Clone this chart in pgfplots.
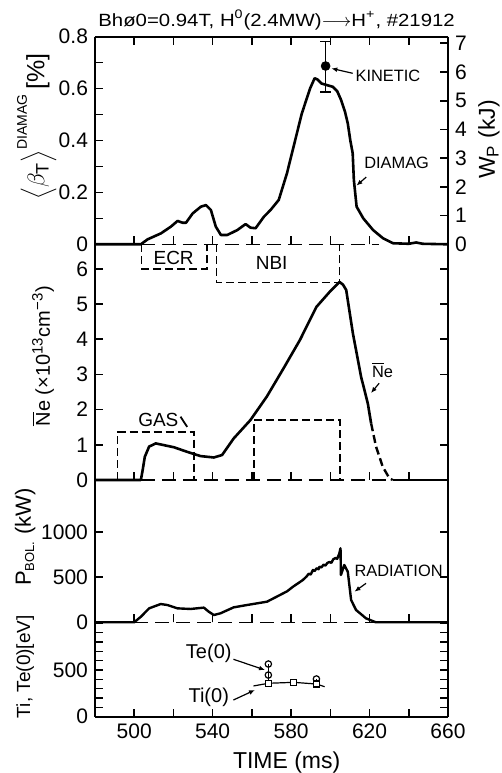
\documentclass[border=0pt]{standalone}
\usepackage{fontspec}
\setmainfont{Liberation Sans}
\newfontfamily\wide[FakeStretch=1.15]{Liberation Sans}
\usepackage{pgfplots}
\usepackage{pgfplotstable}
\pgfplotsset{compat=1.18}
\usetikzlibrary{arrows.meta}

% diamagnetic beta, %
\pgfplotstableread{
t v
480 0
503.4 0
506.8 0.019
513.6 0.042
518.7 0.068
522.1 0.090
524.7 0.083
526.4 0.083
529.8 0.119
534.0 0.145
536.6 0.151
539.1 0.132
541.6 0.068
544.2 0.036
547.5 0.036
552.6 0.055
556.8 0.078
559.3 0.064
561.9 0.062
566.1 0.106
569.5 0.132
573.7 0.171
577.9 0.274
582.1 0.402
585.5 0.505
589.7 0.601
592.0 0.640
593.5 0.635
595.4 0.620
598.0 0.614
601.3 0.607
603.5 0.590
605.5 0.556
607.5 0.510
608.9 0.466
610.2 0.400
611.4 0.351
612.0 0.248
613.4 0.145
616.8 0.100
621.8 0.055
626.9 0.023
632.0 0.004
640.0 0.002
643.8 0.007
647.0 0.002
660 0
}\diamag

% line density, 1e13 cm^-3
\pgfplotstableread{
t v
480 0
503.4 0
504.3 0.28
505.4 0.66
507.6 0.95
511.0 1.04
516.9 0.97
520.3 0.93
527.0 0.80
533.8 0.68
540.6 0.64
544.8 0.71
550.7 1.18
559.2 1.70
567.6 2.37
576.1 3.17
584.5 3.98
592.9 4.92
599.7 5.35
604.7 5.63
606.5 5.55
608.1 5.40
611.5 4.17
615.7 2.93
619.1 2.18
620.8 1.61
}\nesolid
\pgfplotstableread{
t v
620.8 1.61
623.3 0.95
626.7 0.38
630.1 0.05
631.8 0
}\nedash

% bolometer, kW
\pgfplotstableread{
t v
480 0
500.0 0
503.4 62
507.6 155
513.5 203
516.9 192
522.0 155
528.7 148
535.5 163
538.0 118
540.6 81
544.0 100
550.7 166
557.5 192
567.7 229
574.3 303
578.0 345
581.0 396
584.0 440
586.0 470
587.8 507
589.0 540
590.0 530
591.1 581
592.0 570
593.0 600
594.0 590
594.5 618
595.5 610
596.5 640
597.5 630
598.5 660
599.6 670
600.5 660
601.5 700
602.6 714
603.5 705
604.5 760
605.2 822
605.4 526
607.1 637
608.9 562
610.6 248
613.1 137
618.2 44
623.2 0
660 0
}\prad

\pgfplotsset{
  panel/.style={
    width=176.5pt, scale only axis, anchor=south west,
    xmin=480, xmax=660,
    separate axis lines,
    axis line style={line width=0.9pt},
    x axis line style={draw=none},
    tick style={draw=black, line width=0.8pt},
    tick align=inside,
    major tick length=4pt, minor tick length=4pt,
    xtick={500,540,580,620,660}, minor xtick={520,560,600,640},
    ticklabel style={font=\fontsize{10.5}{12}\selectfont},
    /pgf/number format/assume math mode=true,
    /pgf/number format/1000 sep={},
    clip=false,
  },
}
\tikzset{
  curve/.style={black, line width=1.3pt, line join=round},
  zero/.style={black, line width=0.75pt, dash pattern=on 7pt off 3.5pt},
  box/.style={black, line width=0.75pt, dash pattern=on 4pt off 2pt},
  note/.style={font=\fontsize{8.2}{10}\selectfont},
  lab/.style={font=\fontsize{10}{12}\selectfont, rotate=90},
  arr/.style={-{Latex[length=3pt,width=2.4pt]}, line width=0.6pt},
  tk/.style={black, line width=0.8pt},
}

\begin{document}
\begin{tikzpicture}
\useasboundingbox (0,0) rectangle (251pt,386.5pt);

% --- temperatures ---
\begin{axis}[panel, at={(47.5pt,28.15pt)}, height=47.2pt,
  ymin=0, ymax=1011, ytick={0,500}, minor ytick={100,200,300,400,600,700,800,900,1000},
  ytick pos=both, yticklabel pos=left, xtick pos=lower, unbounded coords=jump]
\draw[line width=0.9pt] (rel axis cs:0,0) -- (rel axis cs:1,0);
% time ticks (x lines are hidden)
\addplot[tk] coordinates {(500,0)(500,86)(500,nan) (520,0)(520,86)(520,nan) (540,0)(540,86)(540,nan)
  (560,0)(560,86)(560,nan) (580,0)(580,86)(580,nan) (600,0)(600,86)(600,nan) (620,0)(620,86)(620,nan) (640,0)(640,86)};
\addplot[black, line width=0.6pt] coordinates {(560.8,329) (568.4,358) (581.4,368) (592.9,350) (597.1,321)};
\addplot[black, line width=0.6pt] coordinates {(568.4,564) (568.4,358)};
\addplot[black, line width=0.6pt] coordinates {(592.9,404) (592.9,350)};
\addplot[only marks, mark=o, mark size=1.6pt, black, mark options={line width=0.6pt, fill=white}]
  coordinates {(568.4,564) (568.4,446) (592.9,404)};
\addplot[only marks, mark=square*, mark size=1.5pt, black, mark options={line width=0.6pt, fill=white}]
  coordinates {(568.4,358) (581.4,368) (592.9,350)};
\node[font=\fontsize{10}{11}\selectfont] at (axis cs:538.0,679) {Te(0)};
\draw[arr] (axis cs:550.6,615) -- (axis cs:566.7,500);
\node[font=\fontsize{10}{11}\selectfont] at (axis cs:538.0,208) {Ti(0)};
\draw[arr] (axis cs:550.6,179) -- (axis cs:561.6,286);
\node[lab, font=\fontsize{9.5}{11}\selectfont] at (rel axis cs:-0.198,0.53) {Ti, Te(0)[eV]};
\node[font=\fontsize{11.5}{13}\selectfont] at (rel axis cs:0.543,-0.49) {TIME (ms)};
\end{axis}

% --- radiation ---
\begin{axis}[panel, at={(47.5pt,75.35pt)}, height=71.15pt,
  ymin=0, ymax=1581, ytick={0,500,1000}, ytick pos=both, yticklabel pos=left,
  xtick pos=lower, xticklabels={}, unbounded coords=jump]
\addplot[tk] coordinates {(500,0)(500,89)(500,nan) (520,0)(520,89)(520,nan) (540,0)(540,89)(540,nan)
  (560,0)(560,89)(560,nan) (580,0)(580,89)(580,nan) (600,0)(600,89)(600,nan) (620,0)(620,89)(620,nan) (640,0)(640,89)};
\addplot[zero] coordinates {(500,0) (623.2,0)};
\addplot[curve, line width=1.2pt] table {\prad};
\node[note] at (axis cs:634.8,570) {RADIATION};
\draw[arr] (axis cs:618.2,433) -- (axis cs:612.3,340);
\node[lab, font=\fontsize{11}{13}\selectfont] at (rel axis cs:-0.198,0.60)
  {P$_{\hbox{\fontsize{6.5}{7}\selectfont BOL.}}$ (kW)};
\end{axis}

% --- density ---
\begin{axis}[panel, at={(47.5pt,146.5pt)}, height=117.85pt,
  ymin=0, ymax=6.70, ytick={0,1,...,6}, ytick pos=both, yticklabel pos=left,
  xtick pos=lower, xticklabels={}, unbounded coords=jump]
\addplot[tk] coordinates {(500,0)(500,0.227)(500,nan) (520,0)(520,0.227)(520,nan) (540,0)(540,0.227)(540,nan)
  (560,0)(560,0.227)(560,nan) (580,0)(580,0.227)(580,nan) (600,0)(600,0.227)(600,nan) (620,0)(620,0.227)(620,nan) (640,0)(640,0.227)};
\addplot[zero] coordinates {(503.4,0) (631.8,0)};
\addplot[box] coordinates {(503.7,6.70) (503.7,6.0) (537.2,6.0) (537.2,6.70)};
\addplot[box] coordinates {(541.9,6.70) (541.9,5.62) (604.6,5.62) (604.6,6.70)};
\addplot[box] coordinates {(491.6,0) (491.6,1.37) (530.4,1.37) (530.4,0)};
\addplot[box] coordinates {(561.1,0) (561.1,1.70) (605.0,1.70) (605.0,0)};
\addplot[curve] table {\nesolid};
\addplot[curve, line width=1.2pt, dash pattern=on 4pt off 2pt] table {\nedash};
\addplot[curve] coordinates {(631.8,0) (660,0)};
\node[font=\fontsize{9.5}{11}\selectfont] at (axis cs:520.1,6.31) {ECR};
\node[font=\fontsize{9.5}{11}\selectfont] at (axis cs:570.1,6.16) {NBI};
\node[font=\fontsize{9.5}{11}\selectfont] at (axis cs:512.3,1.70) {GAS};
\draw[line width=0.9pt] (axis cs:523.6,1.80) -- (axis cs:527.0,1.51);
\node[note] at (axis cs:626.6,3.13) {$\overline{\hbox{N}}$e};
\draw[arr] (axis cs:624.9,2.75) -- (axis cs:620.7,2.47);
\node[lab] at (rel axis cs:-0.147,0.526)
  {$\overline{\hbox{N}}$e (×10$^{\hbox{\fontsize{7.5}{8}\selectfont 13}}$cm$^{\hbox{\fontsize{7.5}{8}\selectfont −3}}$)};
\end{axis}

% --- beta / Wp ---
\begin{axis}[panel, at={(47.5pt,264.35pt)}, height=103.8pt,
  ymin=0, ymax=0.8, ytick={0,0.2,0.4,0.6,0.8}, minor ytick={0.1,0.3,0.5,0.7},
  ytick pos=left, xtick pos=both, xticklabels={}, unbounded coords=jump]
\draw[line width=0.9pt] (rel axis cs:0,1) -- (rel axis cs:1,1);
\addplot[tk] coordinates {(500,0)(500,0.031)(500,nan) (520,0)(520,0.031)(520,nan) (540,0)(540,0.031)(540,nan)
  (560,0)(560,0.031)(560,nan) (580,0)(580,0.031)(580,nan) (600,0)(600,0.031)(600,nan) (620,0)(620,0.031)(620,nan) (640,0)(640,0.031)};
\addplot[tk] coordinates {(500,0.8)(500,0.769)(500,nan) (520,0.8)(520,0.769)(520,nan) (540,0.8)(540,0.769)(540,nan)
  (560,0.8)(560,0.769)(560,nan) (580,0.8)(580,0.769)(580,nan) (600,0.8)(600,0.769)(600,nan) (620,0.8)(620,0.769)(620,nan) (640,0.8)(640,0.769)};
\addplot[zero] coordinates {(503.4,0) (625,0)};
\addplot[curve] table {\diamag};
\addplot[only marks, mark=*, mark size=2.2pt, black,
  error bars/.cd, y dir=both, y explicit,
  error bar style={line width=0.8pt},
  error mark options={rotate=90, mark size=2.6pt, line width=0.8pt}]
  coordinates {(597.6,0.687) += (0,0.094) -= (0,0.099)};
\node[note] at (axis cs:629.4,0.649) {KINETIC};
\draw[arr] (axis cs:611.4,0.659) -- (axis cs:600.5,0.678);
\node[note] at (axis cs:633.8,0.313) {DIAMAG};
\draw[arr] (axis cs:618.3,0.259) -- (axis cs:613.3,0.226);
\node[font=\wide\fontsize{8.85}{11}\selectfont, anchor=west, inner sep=0pt] at (rel axis cs:0.0085,1.08)
  {Bhø0=0.94T, H\textsuperscript{0}(2.4MW)$\longrightarrow$H\textsuperscript{+}, \#21912};
\node[lab, font=\fontsize{11.5}{14}\selectfont] at (rel axis cs:-0.165,0.567)
  {$\Big\langle\beta_{\hbox{\fontsize{9}{10}\selectfont T}}\Big\rangle^{\hbox{\fontsize{7}{8}\selectfont DIAMAG}}$\,\hbox{\fontsize{12.5}{14}\selectfont[\%]}};
\end{axis}
\begin{axis}[panel, at={(47.5pt,264.35pt)}, height=103.8pt,
  ymin=0, ymax=7.23, ytick={0,1,...,7}, ytick pos=right, yticklabel pos=right,
  hide x axis, axis y line*=right]
\node[lab, font=\fontsize{11.5}{13}\selectfont] at (rel axis cs:1.116,0.505) {W$_{\hbox{\fontsize{8.5}{9}\selectfont P}}$ (kJ)};
\end{axis}
\end{tikzpicture}
\end{document}
